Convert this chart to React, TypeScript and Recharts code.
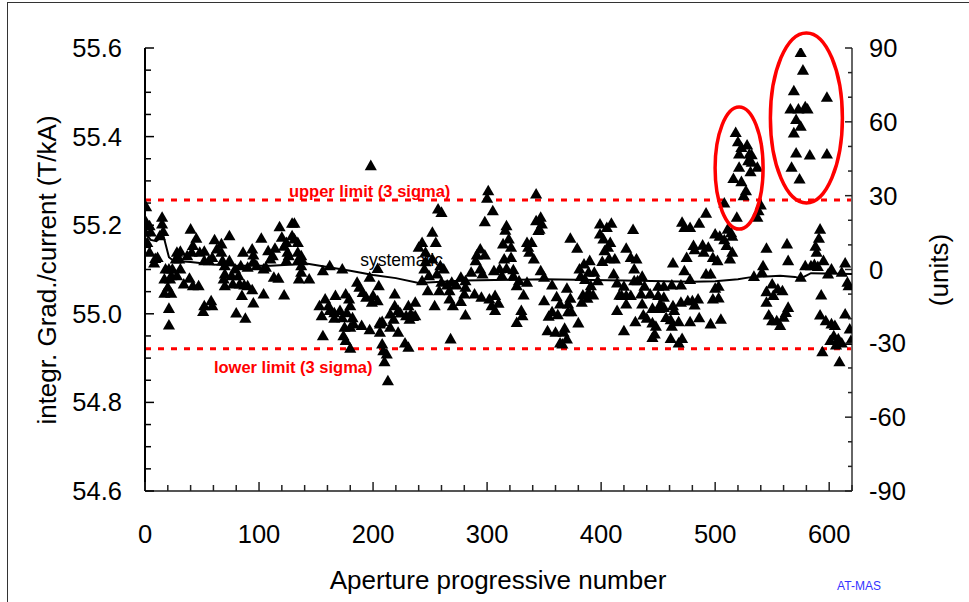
import React from 'react';
import { ScatterChart, Scatter, XAxis, YAxis, ZAxis, ReferenceLine, ReferenceDot } from 'recharts';

// ---------- axis ticks ----------
const xTicks = [0, 20, 40, 60, 80, 100, 120, 140, 160, 180, 200, 220, 240, 260, 280, 300, 320, 340, 360, 380, 400, 420, 440, 460, 480, 500, 520, 540, 560, 580, 600, 620];
const leftTicks = [54.6, 54.65, 54.7, 54.75, 54.8, 54.85, 54.9, 54.95, 55.0, 55.05, 55.1, 55.15, 55.2, 55.25, 55.3, 55.35, 55.4, 55.45, 55.5, 55.55, 55.6];
const rightTicks = [-90, -80, -70, -60, -50, -40, -30, -20, -10, 0, 10, 20, 30, 40, 50, 60, 70, 80, 90];

// ---------- limits (T/kA) ----------
const upperLimit = 55.257;
const lowerLimit = 54.921;

// ---------- systematic curve: [aperture, units] ----------
const systematic: [number, number][] = [
  [0, 15], [5, 12], [10, 11.5], [16, 14], [21, 5], [25, 3.5], [40, 3], [60, 2], [80, 1.5], [110, 1.5],
  [130, 2], [140, 2.5], [160, 1], [180, -0.5], [200, -2.2], [220, -3.5], [240, -5.5], [280, -4.5],
  [350, -4], [420, -4.5], [480, -5], [500, -4.8], [520, -4], [530, -3.2], [557, -2.5], [570, -3],
  [575, -3.6], [584, -1.5], [620, -1.8],
];

// ---------- measurements: [aperture, units] ----------
const pts0to66: [number, number][] = [
  [1, 25.1], [1, 18.9], [4, 17.4], [0, 14.8], [5, 14.8], [2, 10.6], [15, 20.8], [15, 18.1], [16, 15], [13, 13.3],
  [4, 6.6], [9, 4.1], [11, 4.5], [8, 2.2], [40, 16], [45, 12.3], [42, 9.3], [41, 6.6], [61, 11.7], [63, 7.9],
  [28, 6.6], [31, 7], [27, 3.9], [30, 3.9], [37, 5.2], [48, 6.6], [52, 7], [52, 3.2], [56, 3.2], [59, 4.5],
  [18, -0.2], [21, -0.2], [24, -0.2], [23, -2.9], [31, -0.2], [28, -2.9], [34, -6.3], [39, -4], [17, -4.3],
  [20, -7.6], [22, -4.3], [17, -10.1], [23, -10.1], [42, -7], [47, -7], [21, -16.2], [21, -23], [51, -17.5],
  [52, -15.1], [59, -15.1], [58, -13.1],
];
const pts67to136: [number, number][] = [
  [74, 13.3], [67, 10], [67, 6.6], [102, 12.3], [118, 17], [129, 18.4], [131, 18.4], [120, 12.7], [129, 13.3],
  [124, 10.6], [134, 10.6], [122, 9], [131, 12], [86, 6.6], [94, 7.9], [95, 5.5], [108, 7.2], [114, 8.2],
  [112, 5.2], [110, 3.9], [125, 6.6], [126, 5.2], [134, 6.6], [68, 3.2], [74, 3.2], [84, 1.1], [90, 0.5],
  [95, 2.8], [98, 1.1], [104, -0.2], [106, 0.5], [124, 3.2], [134, 3.2], [70, 1.1], [79, -0.2], [70, -2.2],
  [76, -2.9], [82, -2.9], [69, -4.3], [77, -6.3], [83, -6.3], [87, -6.7], [90, -7], [94, -8.6], [70, -7],
  [113, -3.6], [117, -4], [104, -10.4], [122, -10.8], [85, -11], [95, -14], [80, -18.1], [88, -20.2], [135, -4.3],
];
const pts137to206: [number, number][] = [
  [198, 41.8], [137, 5.2], [138, 3.2], [137, 1.1], [137, -1.5], [156, -0.9], [162, 1.1], [173, -0.2], [197, -3.6],
  [144, -4.3], [186, -5.6], [188, -7.6], [191, -9.7], [194, -11.7], [167, -11], [176, -10.4], [179, -12.4],
  [180, -15.1], [200, -11], [199, -13.7], [158, -12.4], [153, -15.1], [161, -15.1], [155, -19.2], [162, -17.1],
  [166, -18], [171, -17.1], [166, -20.2], [173, -20], [177, -18], [182, -20], [183, -22.5], [190, -23.2],
  [197, -24.9], [206, -21.9], [208, -21.5], [156, -27.3], [174, -27.3], [175, -23.9], [180, -23.9], [176, -29.3],
  [180, -32.4], [205, -7],
];
const pts207to276: [number, number][] = [
  [257, 24.2], [260, 22.8], [252, 14.7], [243, 10.6], [255, 10.6], [240, 8.6], [246, 6.6], [252, 3.9], [259, 1.1],
  [262, -0.2], [245, -0.2], [249, -2.9], [256, -2.2], [243, -5], [260, -5.6], [265, -6.7], [269, -5.6], [273, -6.7],
  [248, -9], [258, -9], [267, -9], [219, -10.4], [204, -13.1], [267, -12.4], [270, -15.1], [254, -15.1], [219, -15.1],
  [231, -15.1], [237, -13.7], [222, -17.1], [224, -18.1], [215, -18.5], [229, -19.2], [233, -18.5], [237, -19.2],
  [218, -20.6], [232, -20.6], [235, -19.5], [206, -22.5], [215, -23.9], [222, -25.9], [206, -25.9], [268, -28.6],
  [208, -30.7], [228, -30.3], [231, -32], [209, -33.4], [212, -34.7], [210, -37.9], [213, -45.6], [204, 0], [246, 2.7],
];
const pts277to346: [number, number][] = [
  [301, 31.6], [300, 28.5], [343, 30.3], [305, 23.5], [298, 19], [317, 17.4], [316, 15.5], [343, 19.4], [345, 15.4],
  [319, 12], [314, 10], [321, 8.6], [335, 10.6], [339, 10.6], [336, 8.6], [337, 6.6], [341, 3.9], [294, 7.9],
  [298, 5.5], [291, 5.5], [290, 3.2], [315, 3.9], [321, 4.5], [294, -0.2], [296, -2.2], [286, -1.5], [306, -0.9],
  [311, -0.2], [317, 0], [323, -0.5], [313, -2.9], [323, -3], [277, -3.6], [281, -5], [281, -7.6], [280, -10.4],
  [289, -10.4], [295, -11.7], [302, -12.4], [307, -11], [310, -14.1], [304, -15.1], [307, -17.1], [326, -7],
  [328, -5], [335, -5.6], [332, -10.8], [330, -17.1], [331, -19.2], [326, -21.9], [281, -18.9], [277, -13.4],
];
const pts347to416: [number, number][] = [
  [347, 20.8], [348, 18.1], [346, 16], [373, 12.3], [379, 8.2], [399, 18.1], [405, 16.7], [409, 18.4], [399, 14],
  [402, 12], [408, 10.6], [406, 8.6], [403, 7.2], [412, 3.9], [407, 4], [401, 2.8], [390, 3.2], [385, 1.8],
  [381, -0.2], [389, -1.5], [394, -1.5], [382, -3.2], [386, -4.5], [397, -5], [411, -2.2], [414, -5.9], [347, -0.9],
  [350, -3.6], [357, -6.7], [370, -8], [391, -7], [389, -9.7], [384, -10.8], [388, -12.1], [393, -10.8], [350, -13.1],
  [361, -11.5], [364, -14.4], [373, -12.1], [371, -14.4], [383, -13.7], [357, -17.6], [354, -19.4], [362, -18.8],
  [371, -17.6], [374, -17.6], [380, -22.1], [414, -17.1], [416, -10.9], [353, -25.3], [360, -25.9], [368, -24.3],
  [367, -25.9], [364, -30.3], [370, -28.6], [366, -30.7],
];
const pts417to486: [number, number][] = [
  [428, 15.8], [471, 18.8], [473, 16.7], [478, 16.7], [486, 18.4], [422, 8.2], [426, 4.5], [431, 3.9], [429, -0.2],
  [429, -5], [432, -5], [436, -3.2], [463, 2.2], [475, 4.5], [481, 9.3], [482, 7.6], [473, -0.9], [478, -4.5],
  [470, -6.7], [462, -6.7], [450, -7.2], [455, -7.2], [438, -7.2], [420, -7.2], [418, -11], [422, -11], [426, -11],
  [435, -10.4], [443, -10.4], [450, -11], [455, -11.7], [422, -14.4], [436, -14.4], [452, -14.4], [463, -15.1],
  [470, -13.7], [476, -13.1], [480, -13.1], [485, -12.4], [482, -14.8], [445, -16.2], [451, -16.2], [455, -15.8],
  [464, -17.1], [437, -18.9], [440, -20.2], [457, -19.9], [461, -20.8], [468, -21.6], [430, -21.6], [445, -22.1],
  [448, -23.5], [462, -23.5], [478, -21.6], [486, -20], [420, -25.3], [447, -26.6], [445, -28], [461, -28.4],
  [471, -28.4], [468, -30.3],
];
const pts487to557: [number, number][] = [
  [518, 55.3], [520, 51.5], [523, 49.2], [528, 50.2], [521, 46.5], [530, 46.5], [532, 46.2], [529, 43.8], [532, 43.2],
  [537, 41.1], [521, 41.1], [531, 39.3], [516, 36.6], [523, 35.3], [527, 31.6], [525, 29.6],
  [508, 26.6], [540, 25.8], [538, 23.5], [492, 22.5], [519, 20.8], [537, 20.8], [500, 14], [504, 13.1], [511, 16],
  [514, 14.5], [515, 13.1], [508, 11.7], [489, 9.5], [494, 8.6], [510, 9.3], [490, 6.6], [515, 6.6], [498, 4.5],
  [502, 3.2], [513, 3.9], [545, 8.2], [542, 1.1], [541, -1.5], [534, -3.2], [492, -2.2], [496, -2.2], [550, -6.3],
  [545, -9.4], [551, -11], [555, -8.3], [545, -13.7], [503, -7.2], [500, -8], [498, -12.4], [503, -12], [547, -18.9],
  [550, -21.2], [554, -21.2], [557, -23.2], [496, -22.5], [505, -20.6],
];
const pts558to620: [number, number][] = [
  [575, 87.8], [577, 80.6], [569, 72.2], [598, 69.6], [566, 64.8], [573, 64.8], [579, 65.7], [581, 64.8], [571, 60.5],
  [575, 57.8], [569, 55.1], [571, 46.9], [583, 46.1], [598, 46.5], [567, 41.1], [574, 36.4],
  [592, 16], [591, 12.3], [588, 9], [589, 6.6], [563, 10], [564, 3.2], [595, 3.2], [579, 1.1], [584, 1.1], [587, 1.6],
  [590, 0.8], [602, -0.2], [614, 2.2], [599, -2.2], [611, -1.5], [616, -5.6], [617, -7], [575, -3.6], [559, -9],
  [593, -10.8], [564, -15.8], [562, -17.9], [560, -19.8], [592, -18.9], [597, -21.2], [602, -22.5], [605, -23.2],
  [614, -18.5], [618, -24.6], [604, -27.3], [601, -29.3], [608, -28.6], [611, -30.3], [619, -29.3], [606, -31.1],
  [594, -33.8], [609, -37.9],
];

// ---------- highlighted groups (centre: aperture, units) ----------
const highlightCentres: [number, number][] = [[521, 41.2], [580, 61.6]];

const FONT = '"Liberation Sans", Arial, Helvetica, sans-serif';

const allPoints = [
  ...pts0to66, ...pts67to136, ...pts137to206, ...pts207to276, ...pts277to346,
  ...pts347to416, ...pts417to486, ...pts487to557, ...pts558to620,
].map(([a, u]) => ({ a, u }));
const sysRows = systematic.map(([a, u]) => ({ a, u }));

const isMult = (v: number, step: number) => Math.abs(Math.round(v / step) * step - v) < 1e-6;

const LeftTick = (props: any) => {
  const { x, y, payload } = props;
  const v = payload.value as number;
  const major = isMult(v, 0.2);
  return (
    <g>
      <line x1={x} x2={x + (major ? 9 : 6)} y1={y} y2={y} stroke="#000" strokeWidth={1.5} />
      {major && (
        <text x={x - 23} y={y + 9} textAnchor="end" fontSize={25.5} fontFamily={FONT} fill="#000">
          {v.toFixed(1)}
        </text>
      )}
    </g>
  );
};

const RightTick = (props: any) => {
  const { x, y, payload } = props;
  const v = payload.value as number;
  const major = isMult(v, 30);
  return (
    <g>
      <line x1={x} x2={x - (major ? 7 : 4)} y1={y} y2={y} stroke="#222" strokeWidth={1.5} />
      {major && (
        <text x={x + 17} y={y + 9} textAnchor="start" fontSize={25.5} fontFamily={FONT} fill="#000">
          {String(v)}
        </text>
      )}
    </g>
  );
};

const BottomTick = (props: any) => {
  const { x, y, payload } = props;
  const v = payload.value as number;
  const major = isMult(v, 100);
  return (
    <g>
      <line x1={x} x2={x} y1={y} y2={y - (major ? 9 : 6)} stroke="#222" strokeWidth={1.5} />
      {major && (
        <text x={x} y={y + 52} textAnchor="middle" fontSize={25.5} fontFamily={FONT} fill="#000">
          {String(v)}
        </text>
      )}
    </g>
  );
};

const NoShape = () => <g />;

const ellipseSizes = [
  { rx: 24, ry: 61 },
  { rx: 36, ry: 85 },
];

export default function App() {
  return (
    <div style={{ position: 'absolute', left: 0, top: 0, width: 969, height: 602, background: '#fff', overflow: 'hidden' }}>
      <div
        style={{
          position: 'absolute', left: 7, top: 2, width: 962, height: 600,
          borderLeft: '1.5px solid #333', borderTop: '1.5px solid #333', boxSizing: 'border-box',
        }}
      />
      <div style={{ position: 'absolute', left: 0, top: 0 }}>
        <ScatterChart width={969} height={602} margin={{ top: 48, right: 37, bottom: 51, left: 65 }}>
          <ZAxis range={[40, 40]} />
          <XAxis
            type="number" dataKey="a" domain={[0, 620]} ticks={xTicks} interval={0} allowDataOverflow
            height={60} tickSize={0} tickMargin={0} tickLine={false} tick={<BottomTick />}
            axisLine={{ stroke: '#555', strokeWidth: 2 }}
          />
          <YAxis
            yAxisId="l" type="number" domain={[54.6, 55.6]} ticks={leftTicks} interval={0} allowDataOverflow
            width={80} tickSize={0} tickMargin={0} tickLine={false} tick={<LeftTick />}
            axisLine={{ stroke: '#000', strokeWidth: 2 }}
          />
          <YAxis
            yAxisId="r" orientation="right" type="number" dataKey="u" domain={[-90, 90]} ticks={rightTicks}
            interval={0} allowDataOverflow width={80} tickSize={0} tickMargin={0} tickLine={false}
            tick={<RightTick />} axisLine={{ stroke: '#666', strokeWidth: 2 }}
          />
          <ReferenceLine yAxisId="l" y={upperLimit} stroke="#ff0000" strokeWidth={3} strokeDasharray="6 7" />
          <ReferenceLine yAxisId="l" y={lowerLimit} stroke="#ff0000" strokeWidth={3} strokeDasharray="6 7" />
          <Scatter
            yAxisId="r" data={allPoints} fill="#000" shape="triangle" isAnimationActive={false}
          />
          <Scatter
            yAxisId="r" data={sysRows} line={{ stroke: '#000', strokeWidth: 2 }} lineType="joint"
            shape={NoShape} isAnimationActive={false}
          />
          {highlightCentres.map(([a, u], i) => (
            <ReferenceDot
              key={i} yAxisId="r" x={a} y={u} r={1}
              shape={(p: any) => (
                <ellipse cx={p.cx} cy={p.cy} rx={ellipseSizes[i].rx} ry={ellipseSizes[i].ry}
                  fill="none" stroke="#ff0000" strokeWidth={3.5} />
              )}
            />
          ))}
          <ReferenceDot
            yAxisId="l" x={197} y={upperLimit} r={1}
            shape={(p: any) => (
              <text x={p.cx} y={p.cy - 3} textAnchor="middle" fontSize={16.5} fontWeight="bold" fontFamily={FONT} fill="#ff0000">
                upper limit (3 sigma)
              </text>
            )}
          />
          <ReferenceDot
            yAxisId="l" x={130} y={lowerLimit} r={1}
            shape={(p: any) => (
              <text x={p.cx} y={p.cy + 24} textAnchor="middle" fontSize={16.5} fontWeight="bold" fontFamily={FONT} fill="#ff0000">
                lower limit (3 sigma)
              </text>
            )}
          />
          <ReferenceDot
            yAxisId="r" x={225} y={1.4} r={1}
            shape={(p: any) => (
              <text x={p.cx} y={p.cy} textAnchor="middle" fontSize={17.5} fontFamily={FONT} fill="#000">
                systematic
              </text>
            )}
          />
        </ScatterChart>
      </div>
      <svg width={969} height={602} style={{ position: 'absolute', left: 0, top: 0, pointerEvents: 'none' }}>
        <text transform="translate(56,270) rotate(-90)" textAnchor="middle" fontSize={26} fontFamily={FONT} fill="#000">
          integr. Grad./current (T/kA)
        </text>
        <text transform="translate(948,270) rotate(-90)" textAnchor="middle" fontSize={26} fontFamily={FONT} fill="#000">
          (units)
        </text>
        <text x={498} y={589} textAnchor="middle" fontSize={26} fontFamily={FONT} fill="#000">
          Aperture progressive number
        </text>
        <text x={859} y={590} textAnchor="middle" fontSize={12} fontFamily={FONT} fill="#3333ff">
          AT-MAS
        </text>
      </svg>
    </div>
  );
}
